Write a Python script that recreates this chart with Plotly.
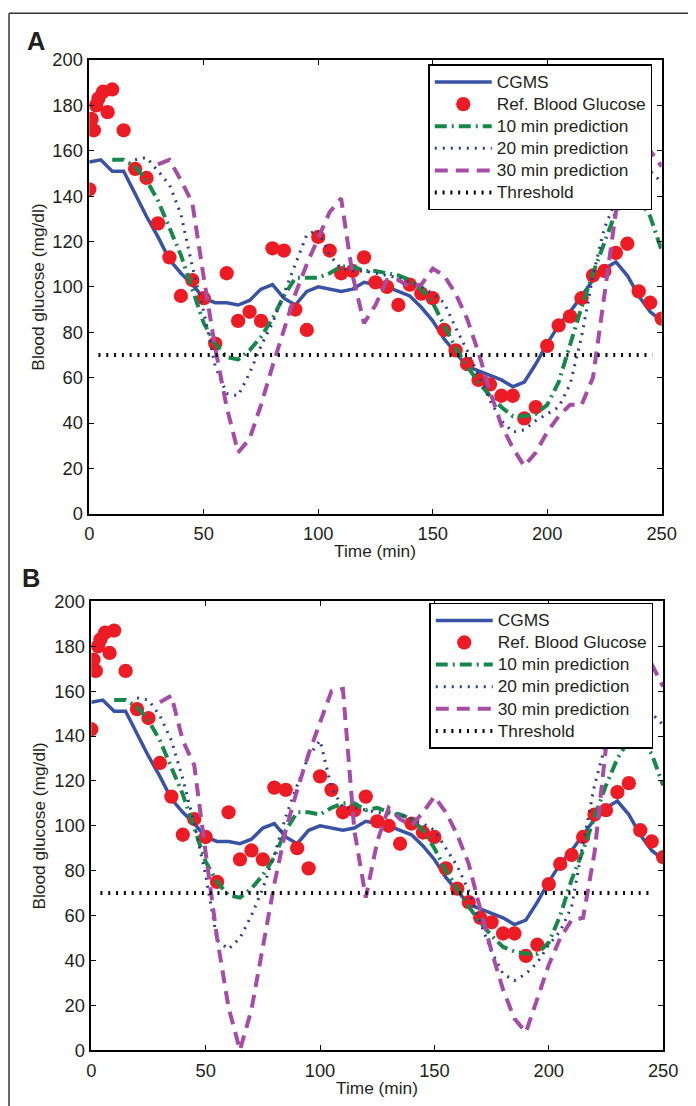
import plotly.graph_objects as go

# ---------------- data ----------------
cgms_time = list(range(0, 251, 5))
cgms_values = [155, 156, 151, 151, 141, 131, 122, 112, 106, 101, 95, 93, 93, 92, 94, 99, 101, 95,
               92, 98, 100, 99, 98, 99, 102, 101, 100, 98, 96, 91, 85, 77, 71, 65, 63, 61, 59, 56,
               58, 66, 75, 83, 89, 96, 103, 108, 111, 105, 96, 89, 85]

ref_time = [0, 1, 2, 3, 4, 6, 8, 10] + list(range(15, 251, 5))
ref_values = [143, 174, 169, 180, 183, 186, 177, 187,
              169, 152, 148, 128, 113, 96, 103, 95, 75, 106, 85, 89, 85, 117, 116, 90, 81, 122,
              116, 106, 107, 113, 102, 100, 92, 101, 97, 95, 81, 72, 66, 59, 57, 52, 52, 42, 47,
              74, 83, 87, 95, 105, 107, 115, 119, 98, 93, 86]

pred10_time = list(range(10, 251, 5))
pred10_a = [156, 156, 153, 147, 138, 126, 114, 99, 84, 75,
            69, 68, 72, 78, 86, 96, 104, 104, 104, 106,
            109, 109, 107, 107, 106, 105, 103, 99, 93, 83,
            73, 65, 58, 52, 47, 43, 43, 44, 48, 58,
            75, 91, 106, 120, 133, 140, 139, 131, 116]
pred10_b = [156, 156, 153, 147, 138, 126, 114, 99, 84, 75,
            69, 68, 72, 78, 86, 98, 106, 106, 105, 108,
            110, 110, 107, 108, 106, 105, 103, 98, 90, 80,
            72, 64, 57, 51, 46, 44, 43, 43, 48, 60,
            76, 89, 104, 118, 130, 138, 139, 132, 118]

pred20_time = list(range(20, 251, 5))
pred20_a = [156, 157, 151, 145, 132, 109, 89, 65, 53, 52, 62, 74, 84, 97, 110, 123, 125, 114,
            108, 107, 107, 106, 105, 104, 102, 100, 97, 93, 82, 72, 61, 50, 41, 36, 37, 41, 44,
            47, 57, 78, 105, 126, 138, 148, 152, 151, 146]
pred20_b = [157, 156, 149, 138, 121, 101, 78, 49, 45, 50, 60, 72, 87, 104, 118, 131, 138, 117,
            108, 108, 107, 106, 105, 105, 103, 101, 98, 90, 82, 71, 57, 44, 34, 31, 34, 39, 47,
            53, 64, 92, 118, 137, 150, 156, 155, 150, 145]

pred30_time = list(range(30, 251, 5))
pred30_a = [154, 156, 147, 137, 104, 73, 47, 27, 33, 48, 65, 81, 97, 110, 122, 133, 139, 105,
            84, 92, 103, 103, 100, 101, 108, 105, 97, 86, 71, 54, 39, 29, 21, 27, 36, 43, 48,
            48, 60, 98, 133, 158, 168, 160, 153]
pred30_b = [155, 158, 138, 127, 88, 50, 19, 0, 18, 46, 74, 98, 116, 132, 146, 160, 161, 98,
            68, 93, 108, 103, 100, 106, 113, 106, 96, 83, 63, 44, 27, 14, 8, 23, 38, 50, 58,
            59, 88, 135, 172, 197, 185, 172, 162]

threshold_time = [4, 246]
threshold_values = [70, 70]

x_ticks = [0, 50, 100, 150, 200, 250]
y_ticks = [0, 20, 40, 60, 80, 100, 120, 140, 160, 180, 200]

series_names = ["CGMS", "Ref. Blood Glucose", "10 min prediction", "20 min prediction",
                "30 min prediction", "Threshold"]

W, H = 696, 1106
FONT = "Liberation Sans, Arial, Helvetica, sans-serif"
TXT = "#231f20"

C_CGMS = "#3953a4"
C_REF = "#ed1c24"
C_10 = "#16884a"
C_20 = "#2e3a8c"
C_30 = "#a64ca6"

# the photographed page shows the figure slightly scaled and offset; these map
# target picture pixels to figure pixels
SX, OX = 0.98, 11.0
SY, OY = 0.98571, 15.86
FS = 1 / 0.983  # font scale


def px_x(p):
    return ((p - OX) / SX) / W


def px_y(p):
    return 1 - ((p - OY) / SY) / H


def lname(s):
    return '<span style="font-size:%.1fpx">%s</span>' % (17 * FS, s)


fig = go.Figure()

panels = [
    dict(xa="x", ya="y", leg="legend", p10=pred10_a, p20=pred20_a, p30=pred30_a),
    dict(xa="x2", ya="y2", leg="legend2", p10=pred10_b, p20=pred20_b, p30=pred30_b),
]

for p in panels:
    common = dict(xaxis=p["xa"], yaxis=p["ya"], legend=p["leg"])
    fig.add_trace(go.Scatter(x=cgms_time, y=cgms_values, mode="lines", name=lname(series_names[0]),
                             line=dict(color=C_CGMS, width=3.5), **common))
    fig.add_trace(go.Scatter(x=ref_time, y=ref_values, mode="markers", name=lname(series_names[1]),
                             marker=dict(color=C_REF, size=14.3, line=dict(width=0)), **common))
    fig.add_trace(go.Scatter(x=pred10_time, y=p["p10"], mode="lines", name=lname(series_names[2]),
                             line=dict(color=C_10, width=4, dash="12px,5px,2px,5px"), **common))
    fig.add_trace(go.Scatter(x=pred20_time, y=p["p20"], mode="lines", name=lname(series_names[3]),
                             line=dict(color=C_20, width=3, dash="2px,6px"), **common))
    fig.add_trace(go.Scatter(x=pred30_time, y=p["p30"], mode="lines", name=lname(series_names[4]),
                             line=dict(color=C_30, width=4, dash="13px,8px"), **common))
    fig.add_trace(go.Scatter(x=threshold_time, y=threshold_values, mode="lines", name=lname(series_names[5]),
                             line=dict(color="black", width=4, dash="2px,5.8px"), **common))

axis_common = dict(
    showline=True, linewidth=1.5, linecolor="black", mirror="ticks",
    ticks="inside", ticklen=5, tickwidth=1.2, tickcolor="black",
    showgrid=False, zeroline=False,
    tickfont=dict(family=FONT, size=18 * FS, color=TXT),
)

legend_common = dict(
    font=dict(family=FONT, size=14.7, color=TXT),
    bgcolor="white", bordercolor="black", borderwidth=1.5,
    xanchor="left", yanchor="top", itemwidth=57, tracegroupgap=0,
)

fig.update_layout(
    width=W, height=H, autosize=False,
    margin=dict(l=0, r=0, t=0, b=0),
    paper_bgcolor="white", plot_bgcolor="white",
    font=dict(family=FONT, size=17, color=TXT),
    xaxis=dict(domain=[px_x(88), px_x(665.5)], range=[0, 250], tickvals=x_ticks,
               anchor="y", ticklabelstandoff=3, **axis_common),
    yaxis=dict(domain=[px_y(513), px_y(57)], range=[0, 200], tickvals=y_ticks,
               anchor="x", ticklabelstandoff=1, **axis_common),
    xaxis2=dict(domain=[px_x(90), px_x(667)], range=[0, 250], tickvals=x_ticks,
                anchor="y2", ticklabelstandoff=3, **axis_common),
    yaxis2=dict(domain=[px_y(1052), px_y(601)], range=[0, 200], tickvals=y_ticks,
                anchor="x2", ticklabelstandoff=1, **axis_common),
    legend=dict(x=px_x(430), y=px_y(61.5), **legend_common),
    legend2=dict(x=px_x(431), y=px_y(602.5), **legend_common),
    showlegend=True,
)

annotations = [
    dict(text="<b>A</b>", x=px_x(34), y=px_y(38), font=dict(size=25 * FS)),
    dict(text="<b>B</b>", x=px_x(29), y=px_y(578), font=dict(size=25 * FS)),
    dict(text="Time (min)", x=px_x(376.5), y=px_y(550), font=dict(size=17 * FS)),
    dict(text="Time (min)", x=px_x(378.5), y=px_y(1090), font=dict(size=17 * FS)),
    dict(text="Blood glucose (mg/dl)", x=px_x(36), y=px_y(285), textangle=-90, font=dict(size=17 * FS)),
    dict(text="Blood glucose (mg/dl)", x=px_x(37), y=px_y(826.5), textangle=-90, font=dict(size=17 * FS)),
]
for a in annotations:
    a.update(xref="paper", yref="paper", showarrow=False, xanchor="center", yanchor="middle")
    a["font"] = dict(family=FONT, color=TXT, **a["font"])
    fig.add_annotation(**a)

# outer figure frame (top and left edges)
fig.add_shape(type="line", xref="paper", yref="paper", x0=px_x(7), x1=px_x(700), y0=px_y(10), y1=px_y(10),
              line=dict(color="#333333", width=1.5))
fig.add_shape(type="line", xref="paper", yref="paper", x0=px_x(7), x1=px_x(7), y0=px_y(10), y1=px_y(1110),
              line=dict(color="#333333", width=1.5))

fig.write_html("out.html", config={"displayModeBar": False})
